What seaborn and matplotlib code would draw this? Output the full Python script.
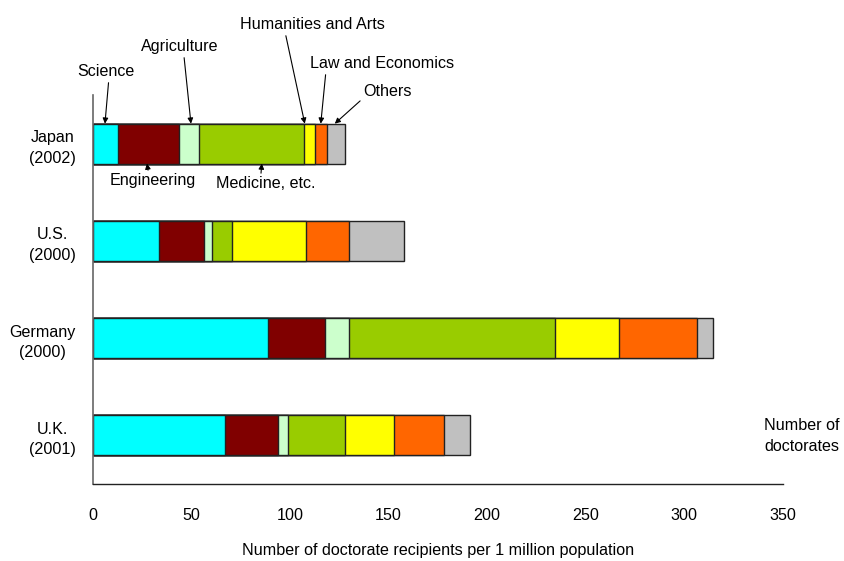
import matplotlib
matplotlib.use('Agg')
import matplotlib.pyplot as plt
import seaborn as sns
import numpy as np
import pandas as pd

countries = ['Japan\n(2002)', 'U.S.\n(2000)', 'Germany\n(2000)', 'U.K.\n(2001)']
fields = ['Science', 'Engineering', 'Agriculture', 'Medicine, etc.',
          'Humanities and Arts', 'Law and Economics', 'Others']
science = [13, 33.5, 89, 67]
engineering = [31, 23, 29, 27]
agriculture = [10, 4, 12, 5]
medicine = [53, 10, 104.5, 29]
humanities = [6, 37.5, 32.5, 25]
law = [6, 22, 39.5, 25]
others = [9, 28, 8, 13.5]
colors = ['#00FFFF', '#800000', '#CCFFCC', '#99CC00', '#FFFF00', '#FF6600', '#C0C0C0']

df = pd.DataFrame({'Country': countries, 'Science': science, 'Engineering': engineering,
                   'Agriculture': agriculture, 'Medicine, etc.': medicine,
                   'Humanities and Arts': humanities, 'Law and Economics': law,
                   'Others': others})

sns.set_style('white', {'text.color': 'black', 'xtick.color': 'black',
                        'ytick.color': 'black', 'axes.labelcolor': 'black'})
plt.rcParams['font.family'] = ['Liberation Sans', 'DejaVu Sans']
fs = 11.6

fig = plt.figure(figsize=(8.45, 5.61), dpi=100)
ax = fig.add_axes([0.1095, 0.1373, 0.8171, 0.6934])

# barras empilhadas: desenha os acumulados do maior para o menor
cum = df[fields].cumsum(axis=1)
for i in range(len(fields) - 1, -1, -1):
    sns.barplot(x=cum[fields[i]], y=df['Country'], orient='h', color=colors[i],
                edgecolor='#222222', linewidth=1, width=0.41, saturation=1, ax=ax)

ax.set_xlim(0, 350)
ax.set_ylim(3.5, -0.5)
ax.set_xticks(range(0, 351, 50))
ax.set_ylabel('')
ax.set_xlabel('Number of doctorate recipients per 1 million population',
              fontsize=fs, labelpad=15, color='black')
ax.tick_params(axis='x', direction='in', length=5, width=1, color='#222222',
               pad=17, labelsize=fs, labelcolor='black')
ax.tick_params(axis='y', length=0, pad=12, labelsize=fs, labelcolor='black')
for lbl in ax.get_yticklabels():
    lbl.set_horizontalalignment('right')
    lbl.set_multialignment('center')
    lbl.set_linespacing(1.45)
for s in ['top', 'right']:
    ax.spines[s].set_visible(False)
ax.spines['left'].set_color('#666666')
ax.spines['bottom'].set_color('#222222')
ax.spines['left'].set_linewidth(1.2)
ax.spines['bottom'].set_linewidth(1)

arrow = dict(arrowstyle='-|>', color='black', lw=0.8, mutation_scale=8,
             shrinkA=0, shrinkB=0)
notes = [
    ('Science', (6.3, -0.205), (6.8, -0.737), (0.55, 0)),
    ('Agriculture', (49.9, -0.205), (44.3, -0.994), (0.55, 0)),
    ('Humanities and Arts', (107.6, -0.205), (111.6, -1.22), (0.31, 0)),
    ('Law and Economics', (115.7, -0.205), (146.8, -0.819), (0.11, 0)),
    ('Others', (122.8, -0.205), (149.6, -0.531), (0.0, 0.1)),
    ('Engineering', (27.6, 0.205), (30.6, 0.384), (0.45, 1)),
    ('Medicine, etc.', (85.8, 0.205), (87.8, 0.415), (0.45, 1)),
]
for txt, tip, pos, rp in notes:
    a = dict(arrow)
    a['relpos'] = rp
    ax.annotate(txt, xy=tip, xytext=pos, ha='center', va='center', fontsize=fs,
                color='black', arrowprops=a, annotation_clip=False)

ax.text(359.7, 3.006, 'Number of\ndoctorates', ha='center', va='center',
        fontsize=fs, color='black', multialignment='center', linespacing=1.45,
        clip_on=False)

fig.savefig('out.png', dpi=100)
